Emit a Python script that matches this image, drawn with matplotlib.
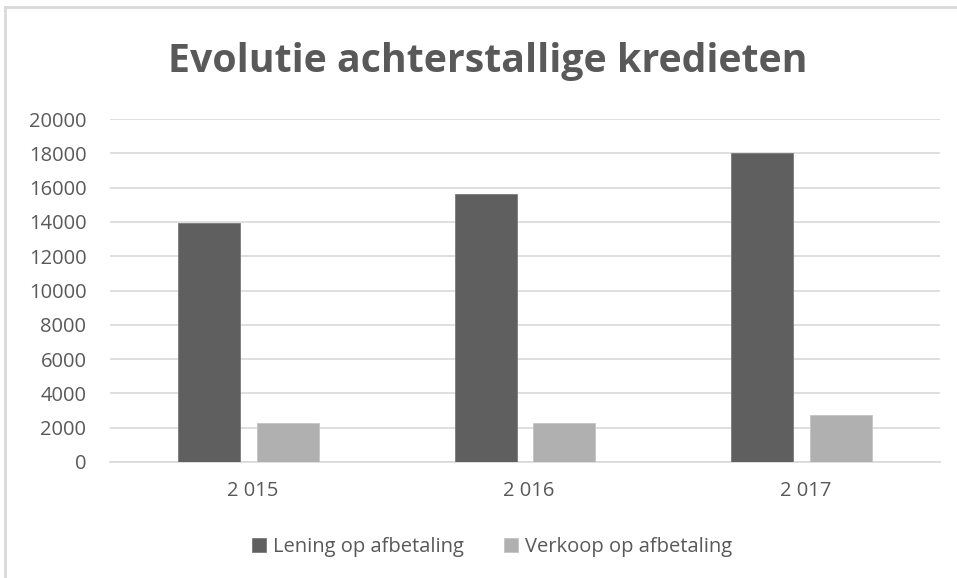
import numpy as np
import matplotlib.pyplot as plt
from matplotlib.lines import Line2D

# data
jaren = ['2 015', '2 016', '2 017']
lening = [13950, 15650, 18000]
verkoop = [2250, 2250, 2720]

plt.rcParams['font.family'] = ['Open Sans', 'DejaVu Sans']
tekst = '#595959'

fig = plt.figure(figsize=(9.57, 5.78), dpi=100)
ax = fig.add_axes([0.115, 0.2007, 0.867, 0.5933])

x = np.arange(len(jaren))
w = 0.224
ax.bar(x - 0.142, lening, w, color='#5f5f5f', edgecolor='#7a7a7a', linewidth=0.6,
       label='Lening op afbetaling', zorder=3)
ax.bar(x + 0.142, verkoop, w, color='#b0b0b0', edgecolor='#c4c4c4', linewidth=0.6,
       label='Verkoop op afbetaling', zorder=3)

ax.set_xlim(-0.5, 2.5)
ax.set_ylim(0, 20000)
ax.set_yticks(range(0, 20001, 2000))
ax.set_xticks(x + 0.015)
ax.set_xticklabels(jaren)
ax.yaxis.grid(True, color='#d9d9d9', linewidth=1.2, zorder=0)
ax.set_axisbelow(True)
for s in ['top', 'right', 'left']:
    ax.spines[s].set_visible(False)
ax.spines['bottom'].set_color('#d9d9d9')
ax.spines['bottom'].set_linewidth(1.2)
ax.tick_params(axis='both', length=0, labelsize=14.5, labelcolor=tekst)
ax.tick_params(axis='y', pad=17)
ax.tick_params(axis='x', pad=14)

fig.text(0.51, 0.893, 'Evolutie achterstallige kredieten', ha='center', va='center',
         fontsize=28.3, fontweight='bold', color=tekst)

fig.legend(loc='center', bbox_to_anchor=(0.514, 0.054), ncol=2, frameon=False,
           fontsize=14.5, labelcolor=tekst, handlelength=0.7, handleheight=0.7,
           handletextpad=0.35, columnspacing=2.0)

# light border on top and left of the chart area
fig.add_artist(Line2D([0.005, 1.0], [0.988, 0.988], transform=fig.transFigure,
                      color='#d9d9d9', linewidth=2))
fig.add_artist(Line2D([0.005, 0.005], [0.0, 0.988], transform=fig.transFigure,
                      color='#d9d9d9', linewidth=2))

fig.savefig('out.png', dpi=100)
